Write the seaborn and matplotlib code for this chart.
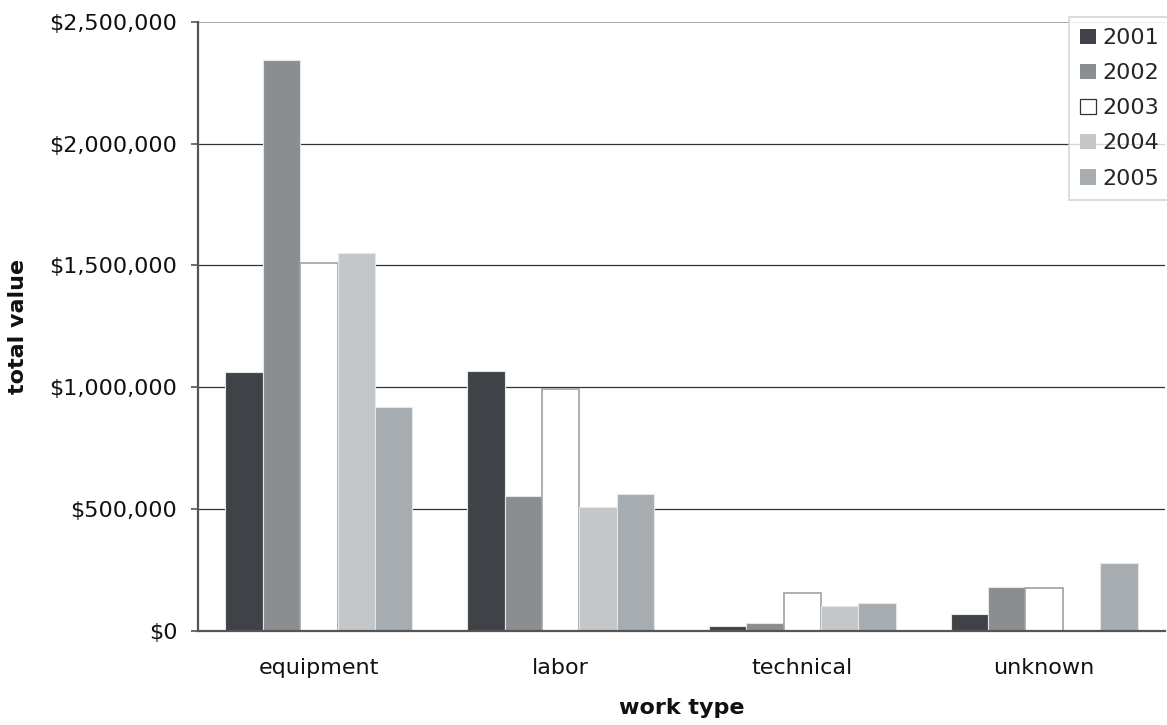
import matplotlib
matplotlib.use("Agg")
import matplotlib.pyplot as plt
from matplotlib.ticker import FuncFormatter, MultipleLocator
import pandas as pd
import seaborn as sns

# Work types and yearly totals (USD)
work_types = ["equipment", "labor", "technical", "unknown"]
years = ["2001", "2002", "2003", "2004", "2005"]
values_2001 = [1061000, 1067000, 19000, 66000]
values_2002 = [2344000, 551000, 31000, 177000]
values_2003 = [1511000, 991000, 153000, 173000]
values_2004 = [1550000, 507000, 102000, 0]
values_2005 = [918000, 562000, 114000, 276000]

bar_colors = ["#3f4347", "#8a8e91", "#ffffff", "#c3c7c9", "#a6acaf"]
edge_colors = ["#e4e6e7", "#e4e6e7", "#9ea2a4", "#e4e6e7", "#e4e6e7"]

series = [values_2001, values_2002, values_2003, values_2004, values_2005]
df = pd.DataFrame(
    [(wt, yr, v) for yr, vals in zip(years, series) for wt, v in zip(work_types, vals)],
    columns=["work type", "year", "total value"],
)

sns.set_theme(style="white")
plt.rcParams["font.family"] = ["DejaVu Sans"]
FS = 16

fig = plt.figure(figsize=(11.67, 7.25), dpi=100)
ax = fig.add_axes([198 / 1167, 94.5 / 725, (1165 - 198) / 1167, (630.5 - 22) / 725])

sns.barplot(
    data=df, x="work type", y="total value", hue="year",
    order=work_types, hue_order=years, palette=bar_colors,
    width=0.773, saturation=1, errorbar=None, ax=ax, legend=True,
)

# Per-series edge styling
for container, ec in zip(ax.containers, edge_colors):
    for patch in container:
        patch.set_edgecolor(ec)
        patch.set_linewidth(1.2 if ec == "#9ea2a4" else 0.8)

ax.set_ylim(0, 2500000)
ax.set_xlim(-0.5, len(work_types) - 0.5)
ax.yaxis.set_major_locator(MultipleLocator(500000))
ax.yaxis.set_major_formatter(FuncFormatter(lambda v, _: f"${v:,.0f}"))

# Horizontal gridlines
for yv in [500000, 1000000, 1500000, 2000000]:
    ax.axhline(yv, color="#333333", linewidth=0.9, zorder=0.5)
ax.axhline(2500000, color="#9a9a9a", linewidth=1.2, zorder=0.5)

for side in ["top", "right"]:
    ax.spines[side].set_visible(False)
ax.spines["left"].set_color("#555555")
ax.spines["left"].set_linewidth(1.6)
ax.spines["bottom"].set_color("#555555")
ax.spines["bottom"].set_linewidth(1.6)

ax.tick_params(axis="y", which="major", left=True, length=5, width=1.2,
               color="#555555", labelsize=FS, labelcolor="#111111", pad=10)
ax.tick_params(axis="x", bottom=False, labelsize=FS, labelcolor="#111111", pad=14)

ax.set_xlabel("work type", fontsize=FS, fontweight="bold", labelpad=14, color="#111111")
ax.set_ylabel("total value", fontsize=FS, fontweight="bold", color="#111111")
ax.yaxis.set_label_coords((28 - 198) / 967, 0.5)

leg = ax.legend(
    loc="upper left", bbox_to_anchor=(1069 / 1167, 708 / 725),
    bbox_transform=fig.transFigure, frameon=True, fancybox=False,
    fontsize=FS, handlelength=0.7, handleheight=0.7, handletextpad=0.3,
    labelspacing=0.68, borderpad=0.5, borderaxespad=0, title=None,
)
leg.get_frame().set_edgecolor("#c8cbcd")
leg.get_frame().set_linewidth(1.2)
for h, ec in zip(leg.legend_handles, edge_colors):
    h.set_edgecolor("#333333" if ec == "#9ea2a4" else "none")
    h.set_linewidth(0.9)

fig.savefig("out.png", dpi=100, facecolor="white")
